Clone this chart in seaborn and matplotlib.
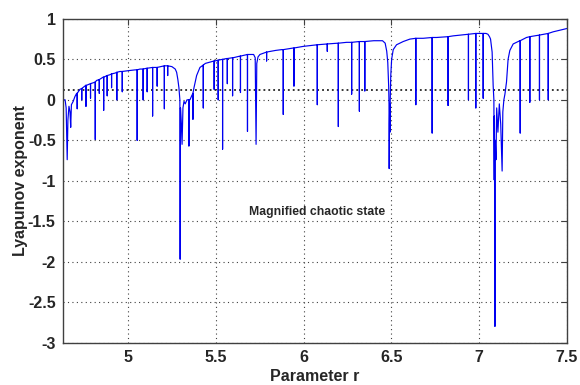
import numpy as np
import pandas as pd
import matplotlib
matplotlib.use("Agg")
import matplotlib.pyplot as plt
import seaborn as sns

# ---- data ----
# upper envelope / broad structures of the Lyapunov exponent curve
base_r = [4.626, 4.640, 4.646, 4.652, 4.656, 4.662, 4.668, 4.672, 4.676, 4.686,
          4.696, 4.706, 4.725, 4.763, 4.800, 4.820, 4.857, 4.896, 4.925, 4.953,
          5.000, 5.040, 5.067, 5.105, 5.152, 5.209, 5.249, 5.268, 5.276, 5.283,
          5.289, 5.2945, 5.296, 5.298, 5.303, 5.307, 5.312, 5.318, 5.325, 5.335,
          5.352, 5.362, 5.375, 5.390, 5.409, 5.440, 5.494, 5.561, 5.599, 5.637,
          5.684, 5.715, 5.724, 5.729, 5.733, 5.740, 5.751, 5.789, 5.840, 5.875,
          5.941, 5.998, 6.074, 6.131, 6.201, 6.245, 6.321, 6.400, 6.450, 6.465,
          6.474, 6.480, 6.485, 6.487, 6.488, 6.4895, 6.491, 6.4925, 6.494, 6.497,
          6.502, 6.511, 6.530, 6.568, 6.606, 6.682, 6.758, 6.853, 6.938, 7.005,
          7.040, 7.051, 7.060, 7.066, 7.075, 7.081, 7.085, 7.087, 7.088, 7.091,
          7.093, 7.097, 7.101, 7.108, 7.116, 7.124, 7.132, 7.136, 7.142, 7.148,
          7.157, 7.166, 7.176, 7.195, 7.233, 7.271, 7.342, 7.423, 7.461, 7.500]
base_lam = [0.00, 0.00, -0.10, -0.74, -0.25, -0.08, -0.15, -0.34, -0.06, -0.02,
            0.04, 0.08, 0.13, 0.18, 0.21, 0.24, 0.28, 0.31, 0.33, 0.35,
            0.36, 0.37, 0.38, 0.39, 0.40, 0.42, 0.41, 0.38, 0.34, 0.25,
            0.15, 0.00, -1.97, -0.10, -0.30, -0.55, -0.10, -0.02, -0.05, 0.00,
            0.00, 0.05, 0.15, 0.30, 0.40, 0.45, 0.48, 0.51, 0.52, 0.54,
            0.56, 0.56, 0.52, -0.55, 0.45, 0.53, 0.56, 0.59, 0.61, 0.62,
            0.64, 0.66, 0.68, 0.69, 0.70, 0.71, 0.72, 0.73, 0.73, 0.70,
            0.60, 0.46, 0.17, -0.05, -0.85, -0.30, -0.05, -0.40, 0.00, 0.30,
            0.50, 0.62, 0.68, 0.72, 0.75, 0.76, 0.77, 0.79, 0.81, 0.82,
            0.82, 0.81, 0.78, 0.75, 0.59, 0.17, 0.00, -0.99, -0.20, -2.80,
            -0.50, -0.74, -0.10, -0.40, -0.05, -0.30, -0.88, -0.15, 0.00, 0.07,
            0.22, 0.50, 0.61, 0.69, 0.73, 0.77, 0.80, 0.84, 0.86, 0.88]

# narrow periodic windows (sharp downward spikes)
dip_r = [4.709, 4.735, 4.759, 4.785, 4.812, 4.835, 4.860, 4.880, 4.905, 4.935,
         4.966, 5.051, 5.085, 5.108, 5.139, 5.165, 5.206, 5.225, 5.346, 5.369,
         5.428, 5.490, 5.513, 5.538, 5.565, 5.595, 5.640, 5.680, 5.789, 5.884,
         5.945, 6.078, 6.135, 6.198, 6.274, 6.318, 6.349, 6.640, 6.733, 6.824,
         6.940, 6.982, 7.024, 7.235, 7.290, 7.345, 7.395]
dip_top = [0.08, 0.14, 0.18, 0.20, 0.22, 0.25, 0.28, 0.30, 0.32, 0.34,
           0.35, 0.37, 0.38, 0.39, 0.40, 0.40, 0.42, 0.42, 0.00, 0.08,
           0.43, 0.48, 0.49, 0.50, 0.51, 0.52, 0.54, 0.56, 0.59, 0.62,
           0.64, 0.68, 0.69, 0.70, 0.71, 0.72, 0.72, 0.76, 0.77, 0.78,
           0.81, 0.82, 0.82, 0.73, 0.78, 0.80, 0.82]
dip_low = [-0.11, 0.00, -0.08, 0.02, -0.49, 0.08, -0.13, 0.05, 0.15, 0.00,
           0.10, -0.50, 0.00, 0.10, -0.20, 0.17, -0.11, 0.30, -0.57, -0.24,
           -0.10, 0.13, 0.00, -0.61, 0.20, 0.05, 0.09, -0.39, 0.48, -0.18,
           0.17, -0.06, 0.60, -0.33, 0.07, -0.14, 0.11, -0.06, -0.41, -0.07,
           0.00, -0.10, 0.02, -0.41, -0.03, 0.00, 0.00]

x_ticks = [5, 5.5, 6, 6.5, 7, 7.5]
y_ticks = [-3, -2.5, -2, -1.5, -1, -0.5, 0, 0.5, 1]
ref_level = 0.12

# ---- build one ordered series ----
rows = [(r, l, 0) for r, l in zip(base_r, base_lam)]
for r, t, lo in zip(dip_r, dip_top, dip_low):
    rows += [(r, t, 0), (r, lo, 1), (r, t, 2)]
df = pd.DataFrame(rows, columns=["r", "lam", "k"]).sort_values(
    ["r", "k"], kind="mergesort").reset_index(drop=True)

sns.set_style("white")
plt.rcParams["font.family"] = ["Liberation Sans", "DejaVu Sans"]
plt.rcParams["axes.unicode_minus"] = False

fig = plt.figure(figsize=(5.8, 3.85), dpi=100)
ax = fig.add_axes([0.108, 0.110, 0.869, 0.841])

sns.lineplot(data=df, x="r", y="lam", sort=False, estimator=None,
             color="#0000f0", linewidth=0.85, ax=ax)

ax.set_xlim(4.626, 7.5)
ax.set_ylim(-3, 1)
ax.set_xticks(x_ticks)
ax.set_xticklabels([f"{t:g}" for t in x_ticks])
ax.set_yticks(y_ticks)
ax.set_yticklabels([f"{t:g}" for t in y_ticks])

ax.grid(True, color="0.25", linestyle=(0, (1, 3)), linewidth=0.8)
ax.axhline(ref_level, color="black", linestyle=(0, (1.2, 2)), linewidth=1.1, zorder=1)

for s in ax.spines.values():
    s.set_color("0.25")
    s.set_linewidth(1.0)
ax.tick_params(direction="in", length=4, width=0.8, top=True, right=True,
               labelsize=11.5, color="0.25", pad=5)
for lab in ax.get_xticklabels() + ax.get_yticklabels():
    lab.set_fontweight("bold")

ax.set_xlabel("Parameter r", fontsize=11.5, fontweight="bold", labelpad=3)
ax.set_ylabel("Lyapunov exponent", fontsize=11.5, fontweight="bold")
ax.yaxis.set_label_coords(-0.068, 0.5)
ax.text(6.076, -1.38, "Magnified chaotic state", ha="center", va="center",
        fontsize=8.8, fontweight="bold")

fig.savefig("out.png", dpi=100)
